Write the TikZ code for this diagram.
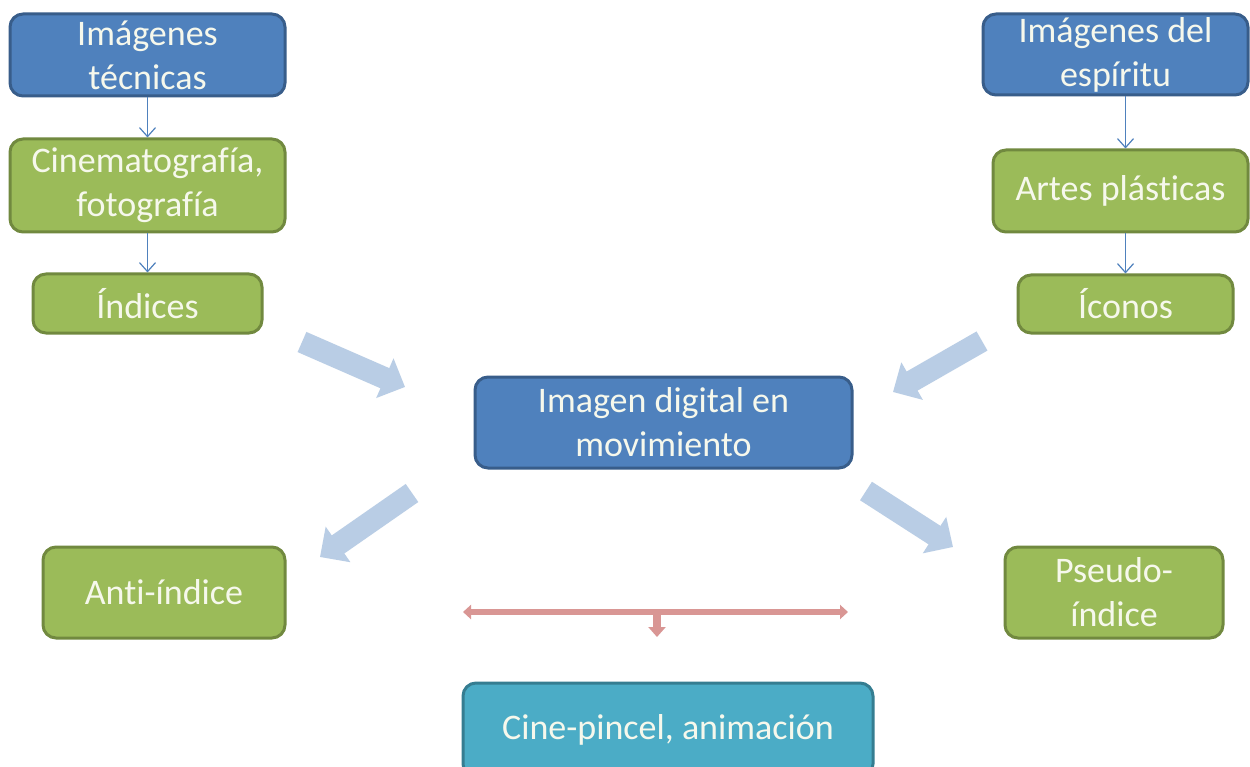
\documentclass[tikz,border=0pt]{standalone}
\usepackage{fontspec}
\setmainfont{Carlito}[Ligatures={NoCommon,NoRequired,NoContextual}]
\usetikzlibrary{arrows.meta}
\definecolor{bfill}{HTML}{4F81BD}
\definecolor{bline}{HTML}{385D8A}
\definecolor{gfill}{HTML}{9BBB59}
\definecolor{gline}{HTML}{71893F}
\definecolor{tfill}{HTML}{4BACC6}
\definecolor{tline}{HTML}{357D91}
\definecolor{lblue}{HTML}{B9CDE5}
\definecolor{rline}{HTML}{D99694}
\definecolor{txt}{HTML}{F6F8EC}
\tikzset{
  box/.style={rounded corners=13pt, line width=3pt, inner sep=0pt, align=center,
    text=txt, font=\fontsize{36}{44}\selectfont},
  bluebox/.style={box, fill=bfill, draw=bline},
  greenbox/.style={box, fill=gfill, draw=gline},
  tealbox/.style={box, fill=tfill, draw=tline},
  thin/.style={draw=bfill, line width=1.2pt, -{Straight Barb[length=9pt,width=16pt]}},
  bigarrow/.style={draw=lblue, line width=22pt, -{Triangle[length=22pt,width=42pt]}},
  redarrow/.style={draw=rline, line width=6pt, {Triangle[length=8pt,width=14pt]}-{Triangle[length=8pt,width=14pt]}},
  redstub/.style={draw=rline, line width=8pt, -{Triangle[length=10pt,width=17pt]}}
}
\begin{document}
\begin{tikzpicture}[x=1pt,y=-1pt]
\useasboundingbox[fill=white] (0,0) rectangle (1250,767);
\node[bluebox, minimum width=275pt, minimum height=82pt] (A) at (147.5,55) {Imágenes\\técnicas};
\node[greenbox, minimum width=275pt, minimum height=93pt] (B) at (147.5,185.5) {Cinematografía,\\fotografía};
\node[greenbox, minimum width=229pt, minimum height=59pt] (C) at (147.5,303.5) {Índices};
\node[bluebox, minimum width=265pt, minimum height=81pt] (D) at (1115.5,54.5) {Imágenes del\\espíritu};
\node[greenbox, minimum width=255pt, minimum height=82pt] (E) at (1120.5,191) {Artes plásticas};
\node[greenbox, minimum width=215pt, minimum height=58pt] (F) at (1125.5,304) {Íconos};
\node[bluebox, minimum width=377pt, minimum height=91pt] (G) at (663.5,422.5) {Imagen digital en\\movimiento};
\node[greenbox, minimum width=242pt, minimum height=91pt] (H) at (164,592.5) {Anti-índice};
\node[greenbox, minimum width=218pt, minimum height=91pt] (I) at (1114,592.5) {Pseudo-\\índice};
\node[tealbox, minimum width=410pt, minimum height=94pt] (J) at (668,730) {Cine-pincel, animación};
\draw[thin] (A.south) -- (B.north);
\draw[thin] (B.south) -- (C.north);
\draw[thin] (D.south -| F.north) -- (E.north -| F.north);
\draw[thin] (E.south -| F.north) -- (F.north);
\coordinate (a1s) at (302,342); \coordinate (a1e) at (405,387);
\coordinate (a2s) at (982,341); \coordinate (a2e) at (893,392);
\coordinate (a3s) at (412,493); \coordinate (a3e) at (320,557);
\coordinate (a4s) at (866,491); \coordinate (a4e) at (953,547);
\draw[bigarrow] (a1s) -- (a1e);
\draw[bigarrow] (a2s) -- (a2e);
\draw[bigarrow] (a3s) -- (a3e);
\draw[bigarrow] (a4s) -- (a4e);
\coordinate (r1) at (463,612); \coordinate (r2) at (848,612);
\coordinate (rm) at (657,612); \coordinate (rd) at (657,637);
\draw[redarrow] (r1) -- (r2);
\draw[redstub] (rm) -- (rd);
\end{tikzpicture}
\end{document}
